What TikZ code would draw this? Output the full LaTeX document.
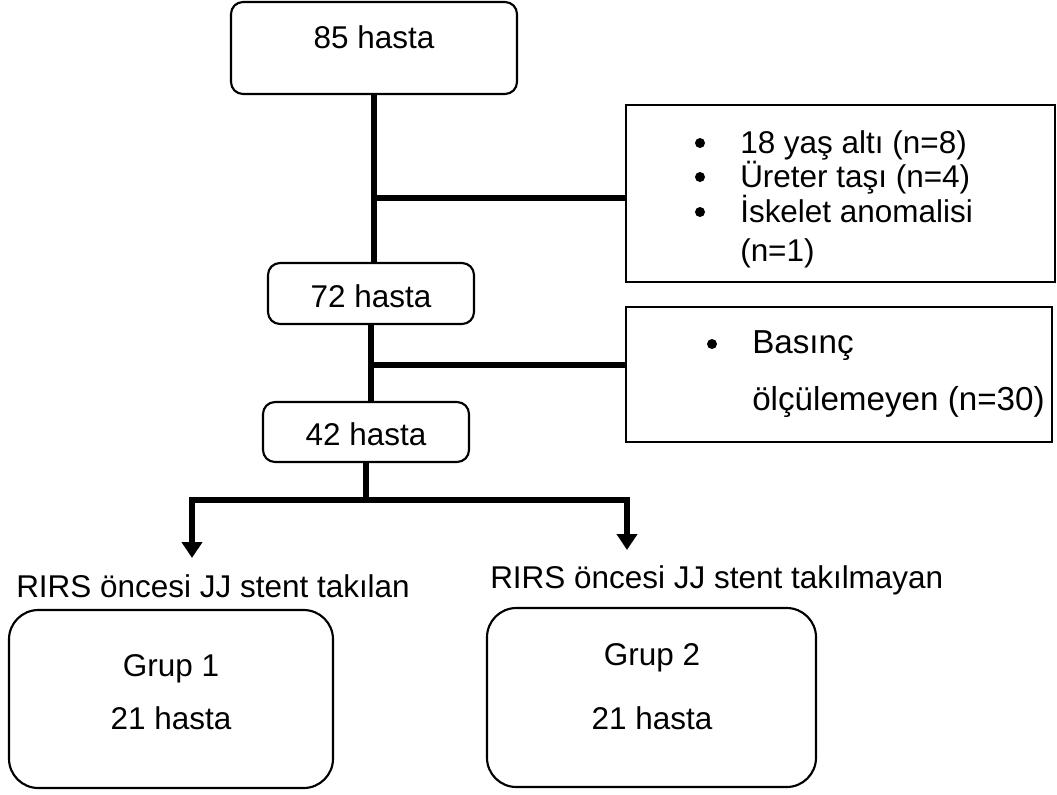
\documentclass[tikz,border=0pt]{standalone}
\usepackage{fontspec}
\setmainfont{Liberation Sans}
\usetikzlibrary{arrows.meta}
\begin{document}
\begin{tikzpicture}[x=0.75pt,y=-0.75pt,
 txt/.style={font=\fontsize{23.6}{28}\selectfont, inner sep=0pt},
 bigtxt/.style={font=\fontsize{24.9}{30}\selectfont, inner sep=0pt},
 rbox/.style={draw, line width=1.6pt, rounded corners=9pt, inner sep=0pt},
 gbox/.style={draw, line width=1.6pt, rounded corners=22pt, inner sep=0pt},
 sbox/.style={draw, line width=2pt, inner sep=0pt},
 trunk/.style={line width=5.2pt},
 twig/.style={line width=4.5pt},
 dart/.style={line width=4.5pt, -{Triangle[width=15pt,length=12pt]}},
 dot/.style={fill=black}
]
\useasboundingbox (0,0) rectangle (1057,794);

% boxes
\node[rbox, minimum width=214.5pt, minimum height=69pt] (b85) at (374,48) {};
\node[rbox, minimum width=154.5pt, minimum height=45.75pt] (b72) at (371,293.5) {};
\node[rbox, minimum width=154.5pt, minimum height=45pt] (b42) at (366,432) {};
\node[sbox, minimum width=321.75pt, minimum height=132.75pt] (ex1) at (840.5,193.5) {};
\node[sbox, minimum width=319.5pt, minimum height=101.25pt] (ex2) at (839,374.5) {};
\node[gbox, minimum width=243pt, minimum height=133.5pt] (g1) at (171,699) {};
\node[gbox, minimum width=246.75pt, minimum height=134.25pt] (g2) at (651.5,697.5) {};

% texts
\node[txt, anchor=base] (t85) at (374,48) {85 hasta};
\node[txt, anchor=base] (t72) at (371,307) {72 hasta};
\node[txt, anchor=base] (t42) at (366,445) {42 hasta};

\node[txt, anchor=base west] (e11) at (740,153) {18 yaş altı (n=8)};
\node[txt, anchor=base west] (e12) at (740,187) {Üreter taşı (n=4)};
\node[txt, anchor=base west] (e13) at (740,222) {İskelet anomalisi};
\node[txt, anchor=base west] (e14) at (740,261) {(n=1)};
\fill[dot] (700,143) circle (5);
\fill[dot] (700,177) circle (5);
\fill[dot] (700,212) circle (5);

\node[bigtxt, anchor=base west] (e21) at (752,353) {Basınç};
\node[bigtxt, anchor=base west] (e22) at (752,410) {ölçülemeyen (n=30)};
\fill[dot] (712,344) circle (5);

\node[txt, anchor=base west] (lL) at (16,597) {RIRS öncesi JJ stent takılan};
\node[txt, anchor=base west] (lR) at (490,588) {RIRS öncesi JJ stent takılmayan};

\node[txt, anchor=base] (g1a) at (171,676) {Grup 1};
\node[txt, anchor=base] (g1b) at (171,729) {21 hasta};
\node[txt, anchor=base] (g2a) at (652,665) {Grup 2};
\node[txt, anchor=base] (g2b) at (652,729) {21 hasta};

% connectors
\coordinate (j1) at (374,198);
\coordinate (j2) at (371,365);
\coordinate (split) at (366,500);
\coordinate (tipL) at (192,558);
\coordinate (tipR) at (627,550);

\draw[trunk] (b85.south) -- (b85.south |- b72.north);
\draw[twig] (j1) -- (j1 -| ex1.west);
\draw[trunk] (b72.south) -- (b72.south |- b42.north);
\draw[twig] (j2) -- (j2 -| ex2.west);
\draw[trunk] (b42.south) -- (split);
\draw[dart] (split) -| (tipL);
\draw[dart] (split) -| (tipR);
\end{tikzpicture}
\end{document}
